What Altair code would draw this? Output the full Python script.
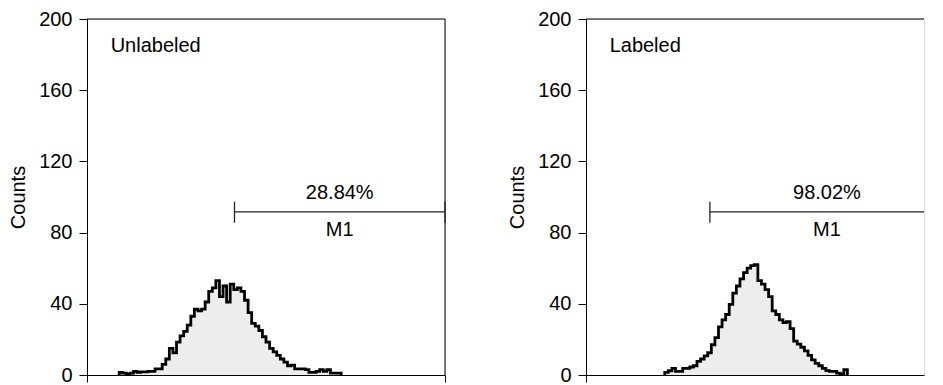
import altair as alt
import pandas as pd

FONT = "Liberation Sans"
BIN = 10  # channel width of one histogram bin

# ---- data ----
unl_start = 90
unl_counts = [1.5, 1, 0.5, 1, 2, 1.5, 1.8, 1.8, 2, 2, 3.4, 3.4, 6, 9, 15, 12.5, 18.5, 22,
              24.5, 28, 33, 37, 36, 37, 41, 47, 49, 53, 44, 50, 41, 51, 48, 49, 47, 42,
              35, 29, 27.5, 25, 21.5, 18.5, 15, 13, 11, 9, 7.2, 5.2, 5.5, 3.4, 3.4, 3.4,
              3, 1.5, 1.5, 2, 3, 2, 3, 1, 1, 1]
lab_start = 220
lab_counts = [1.5, 2.4, 3.7, 2, 2, 3.7, 3.7, 4.5, 5.2, 7.6, 9, 10.8, 12.5, 17, 21, 27,
              31, 34, 39.7, 46, 50, 54, 57.5, 60, 61.5, 62, 53, 51, 48, 44, 36, 34, 31,
              29.5, 30, 26, 19, 17.3, 15.6, 13.5, 11, 8.5, 6.5, 5.2, 3.7, 2.5, 2, 2, 1,
              0.5, 3]

panel_names = ["Unlabeled", "Labeled"]
percents = ["28.84%", "98.02%"]
m1_starts = [412, 346]
m1_end = 1000
m1_level = 91.6
y_ticks = [0, 40, 80, 120, 160, 200]
x_max = [1000, 944]      # right panel is cut off at the window edge
widths = [358, 338]


def hist_df(start, counts):
    xs = [start] + [start + i * BIN for i in range(len(counts))] + [start + len(counts) * BIN]
    ys = [0] + list(counts) + [0]
    return pd.DataFrame({"x": xs, "y": ys, "o": list(range(len(xs)))})


yscale = alt.Scale(domain=[0, 200], nice=False)
yaxis = alt.Axis(values=y_ticks, tickSize=8, tickColor="black", domainColor="black",
                 grid=False, labelFont=FONT, labelFontSize=20, labelColor="black",
                 labelPadding=7, title="Counts", titleFont=FONT, titleFontSize=20,
                 titleFontWeight="normal", titleColor="black", titlePadding=10)


def panel(i, start, counts):
    xm = x_max[i]
    m1s = m1_starts[i]
    m1e = min(m1_end, xm)
    xscale = alt.Scale(domain=[0, xm], nice=False, zero=False)
    xticks = [v for v in [0, 1000] if v <= xm]
    xaxis = alt.Axis(values=xticks, labels=False, tickSize=7, tickColor="black",
                     domainColor="black", grid=False, title=None)
    df = hist_df(start, counts)
    base = alt.Chart(df)
    X = alt.X("x:Q", scale=xscale, axis=xaxis)
    Y = alt.Y("y:Q", scale=yscale, axis=yaxis)
    area = base.mark_area(interpolate="step-after", color="#ededed").encode(x=X, y=Y)
    line = base.mark_line(interpolate="step-after", color="black", strokeWidth=2.8).encode(
        x=X, y=Y, order="o:Q")

    # frame: top edge and (if visible) right edge
    fdf = pd.DataFrame({"x": [0], "x2": [xm], "y": [200]})
    top = alt.Chart(fdf).mark_rule(color="black", strokeWidth=1).encode(
        x="x:Q", x2="x2:Q", y="y:Q")
    layers = [area, line, top]
    if xm >= 1000:
        rdf = pd.DataFrame({"x": [1000], "y": [0], "y2": [200]})
        layers.append(alt.Chart(rdf).mark_rule(color="black", strokeWidth=1).encode(
            x="x:Q", y="y:Q", y2="y2:Q"))

    mdf = pd.DataFrame({"x": [m1s], "x2": [m1e], "y": [m1_level]})
    layers.append(alt.Chart(mdf).mark_rule(color="#222", strokeWidth=1.3).encode(
        x="x:Q", x2="x2:Q", y="y:Q"))
    tx = [v for v in [m1s, m1_end] if v <= xm]
    tdf = pd.DataFrame({"x": tx, "y": [85.5] * len(tx), "y2": [97.3] * len(tx)})
    layers.append(alt.Chart(tdf).mark_rule(color="#222", strokeWidth=1.3).encode(
        x="x:Q", y="y:Q", y2="y2:Q"))

    mid = (m1s + m1_end) / 2
    cdf = pd.DataFrame({"x": [mid, mid], "y": [102.5, 81.5], "t": [percents[i], "M1"]})
    layers.append(alt.Chart(cdf).mark_text(font=FONT, fontSize=20, color="black",
                                            align="center", baseline="middle").encode(
        x="x:Q", y="y:Q", text="t:N"))
    ldf = pd.DataFrame({"x": [66], "y": [185], "t": [panel_names[i]]})
    layers.append(alt.Chart(ldf).mark_text(font=FONT, fontSize=20, color="black",
                                            align="left", baseline="middle").encode(
        x="x:Q", y="y:Q", text="t:N"))
    return alt.layer(*layers).properties(width=widths[i], height=356)


left = panel(0, unl_start, unl_counts)
right = panel(1, lab_start, lab_counts)

chart = alt.hconcat(left, right, spacing=141, bounds="flush").properties(
    padding={"left": 0, "top": 0, "right": 0, "bottom": 0}
).configure_view(strokeWidth=0).configure(background="white")

chart.save("out.html", embed_options={"renderer": "svg", "actions": False})
